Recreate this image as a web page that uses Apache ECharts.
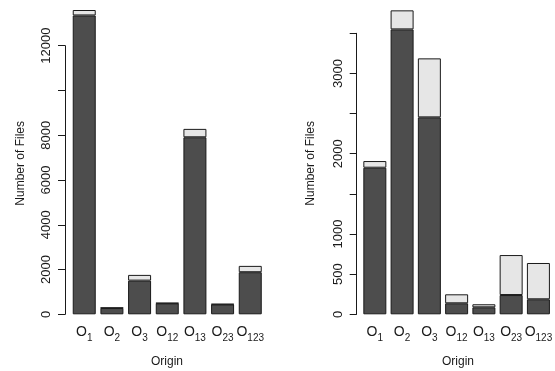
<!DOCTYPE html>
<html>
<head>
<meta charset="utf-8">
<script src="https://cdn.jsdelivr.net/npm/echarts@6/dist/echarts.min.js"></script>
<style>html,body{margin:0;padding:0;background:#fff}#c{width:555px;height:371px}</style>
</head>
<body>
<div id="c"></div>
<script>
var categories = ['1', '2', '3', '12', '13', '23', '123'];
// left panel
var leftDark  = [13350, 280, 1505, 490, 7907, 440, 1880];
var leftLight = [243, 16, 255, 16, 376, 21, 283];
var leftTicks = [0, 2000, 4000, 6000, 8000, 10000, 12000];
var leftTickLabels = ['0', '2000', '4000', '6000', '8000', '', '12000'];
// right panel
var rightDark  = [1826, 3549, 2453, 137, 87, 240, 187];
var rightLight = [83, 237, 735, 112, 38, 498, 452];
var rightTicks = [0, 500, 1000, 1500, 2000, 2500, 3000, 3500];
var rightTickLabels = ['0', '500', '1000', '', '2000', '', '3000', ''];

var xLabel = 'Origin';
var yLabel = 'Number of Files';

var FONT = "'Liberation Sans', Arial, sans-serif";
var TXT = '#1a1a1a';

function labelFmt(ticks, labels) {
  return function (v) {
    var i = ticks.indexOf(v);
    return i >= 0 ? labels[i] : '';
  };
}

var catLabel = {
  show: true, margin: 11, interval: 0,
  formatter: function (v) { return '{o|O}{s|' + v + '}'; },
  rich: {
    o: { fontSize: 14, lineHeight: 16, verticalAlign: 'top', color: TXT, fontFamily: FONT },
    s: { fontSize: 10, lineHeight: 10, padding: [9, 0, 0, 0], color: TXT, fontFamily: FONT }
  }
};

function valAxis(grid, min, max, interval, ticks, labels, show) {
  return {
    type: 'value', gridIndex: grid, min: min, max: max, interval: interval,
    show: show,
    splitLine: { show: false },
    axisLine: { show: true, lineStyle: { color: '#1a1a1a', width: 1 } },
    axisTick: { show: true, length: 7, lineStyle: { color: '#1a1a1a', width: 1 } },
    axisLabel: show ? {
      rotate: 90, margin: 12, fontSize: 13, color: TXT, fontFamily: FONT,
      formatter: labelFmt(ticks, labels)
    } : { show: false }
  };
}

function catAxis(grid, show) {
  return {
    type: 'category', gridIndex: grid, data: categories, boundaryGap: true,
    show: show,
    axisLine: { show: false }, axisTick: { show: false },
    axisLabel: show ? catLabel : { show: false }
  };
}

function barSeries(axisIdx, data, color, stack) {
  return {
    type: 'bar', xAxisIndex: axisIdx, yAxisIndex: axisIdx, stack: stack,
    data: data, barWidth: 23, silent: true, animation: false,
    itemStyle: { color: color, borderColor: '#1a1a1a', borderWidth: 1 }
  };
}

var chart = echarts.init(document.getElementById('c'), null, { renderer: 'canvas' });
chart.setOption({
  animation: false,
  backgroundColor: '#ffffff',
  grid: [
    { left: 65, top: 45.7, bottom: 56.7, width: 195 },     // left axis grid
    { left: 70.4, top: 0.9, bottom: 56.7, width: 193.7 },  // left bars grid
    { left: 356.7, top: 33.3, bottom: 56.7, width: 195 },  // right axis grid
    { left: 361.2, top: 1.2, bottom: 56.7, width: 193.7 }  // right bars grid
  ],
  xAxis: [
    catAxis(0, false), catAxis(1, true), catAxis(2, false), catAxis(3, true)
  ],
  yAxis: [
    valAxis(0, 0, 12000, 2000, leftTicks, leftTickLabels, true),
    valAxis(1, 0, 14000, 2000, leftTicks, leftTickLabels, false),
    valAxis(2, 0, 3500, 500, rightTicks, rightTickLabels, true),
    valAxis(3, 0, 3900, 500, rightTicks, rightTickLabels, false)
  ],
  series: [
    barSeries(1, leftDark, '#4d4d4d', 'L'),
    barSeries(1, leftLight, '#e6e6e6', 'L'),
    barSeries(3, rightDark, '#4d4d4d', 'R'),
    barSeries(3, rightLight, '#e6e6e6', 'R')
  ],
  graphic: [
    { type: 'text', x: 20.7, y: 163.3, rotation: Math.PI / 2,
      style: { text: yLabel, fontSize: 12, fontFamily: FONT, fill: TXT, textAlign: 'center', textVerticalAlign: 'middle' } },
    { type: 'text', x: 310.7, y: 163.3, rotation: Math.PI / 2,
      style: { text: yLabel, fontSize: 12, fontFamily: FONT, fill: TXT, textAlign: 'center', textVerticalAlign: 'middle' } },
    { type: 'text', x: 167, y: 361.7,
      style: { text: xLabel, fontSize: 12, fontFamily: FONT, fill: TXT, textAlign: 'center', textVerticalAlign: 'middle' } },
    { type: 'text', x: 458, y: 361.7,
      style: { text: xLabel, fontSize: 12, fontFamily: FONT, fill: TXT, textAlign: 'center', textVerticalAlign: 'middle' } }
  ]
});
</script>
</body>
</html>
